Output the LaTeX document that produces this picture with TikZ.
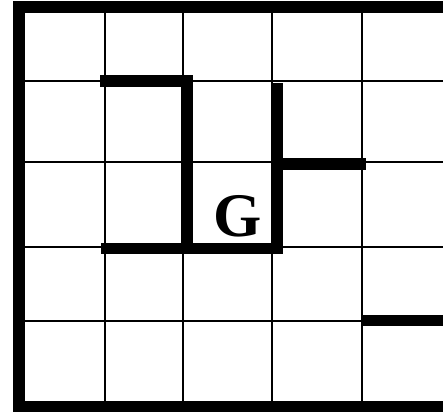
\documentclass[tikz,border=0pt]{standalone}
\usepackage{fontspec}
\setmainfont{Liberation Serif}
\usetikzlibrary{positioning}

\begin{document}
\begin{tikzpicture}[x=1pt,y=-1pt,
    grid/.style={black,line width=2pt},
    wall/.style={black,line width=11.5pt,line cap=rect,line join=miter},
    goalmark/.style={inner sep=0pt,font=\fontsize{62}{62}\selectfont\bfseries}]
    \useasboundingbox (0,0) rectangle (443,412);
    % thin grid
    \foreach \gx in {105,182.5,272,361.5} \draw[grid] (\gx,7) -- (\gx,406);
    \foreach \gy in {81,162,247,321} \draw[grid] (19,\gy) -- (443,\gy);
    % outer border, open on the right
    \fill (13,1) rectangle (443,13);
    \fill (13,1) rectangle (25,412);
    \fill (13,401) rectangle (443,412);
    % walls
    \draw[wall] (105.75,81) -| (187,248.5);
    \draw[wall] (106.5,248.5) -| (277,88.5);
    \draw[wall] (277,164) -- (360.25,164);
    \draw[wall,line cap=butt] (361,320.5) -- (443,320.5);
    % goal
    \node[goalmark] (goal) at (237.5,216) {G};
\end{tikzpicture}
\end{document}
